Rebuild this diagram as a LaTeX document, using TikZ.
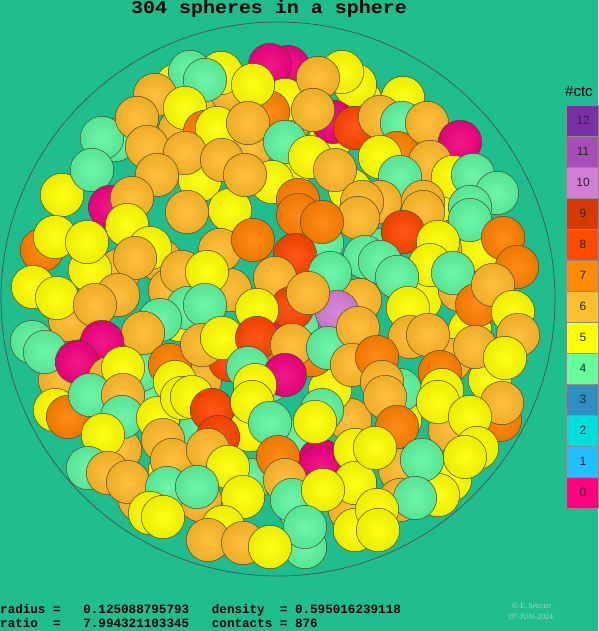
\documentclass[tikz,border=0pt]{standalone}
\usepackage{fontspec}
\setmainfont{Liberation Serif}
\newfontfamily\monof{Liberation Mono}
\newfontfamily\sansf{Liberation Sans}
\definecolor{bg}{HTML}{20BE8F}
\definecolor{cY}{HTML}{FFFF00}
\definecolor{cO6}{HTML}{FFBA2A}
\definecolor{cO7}{HTML}{FF8000}
\definecolor{cR8}{HTML}{FF4500}
\definecolor{cG}{HTML}{5FF5A0}
\definecolor{cM}{HTML}{F0007F}
\definecolor{cP}{HTML}{D27DD6}
\definecolor{cedge}{HTML}{4A4A26}
\definecolor{l12}{HTML}{7B2FA6}
\definecolor{l11}{HTML}{A84CB8}
\definecolor{l10}{HTML}{D27DD6}
\definecolor{l9}{HTML}{D63A00}
\definecolor{l8}{HTML}{FF4A00}
\definecolor{l7}{HTML}{FF8C00}
\definecolor{l6}{HTML}{FFC030}
\definecolor{l5}{HTML}{FFFF00}
\definecolor{l4}{HTML}{66FF99}
\definecolor{l3}{HTML}{2E8FC0}
\definecolor{l2}{HTML}{00DDDD}
\definecolor{l1}{HTML}{22C0FF}
\definecolor{l0}{HTML}{FF0080}
\definecolor{copyc}{HTML}{B4D6CA}
\begin{document}
\begin{tikzpicture}[
  ball/.style={draw=cedge, line width=0.5pt, inner color=#1!90!white, outer color=#1!93!black},
  legbox/.style={fill=#1, draw=black!45, line width=0.4pt},
  leglab/.style={font=\sansf\fontsize{12}{12}\selectfont, text=black!85},
  infotext/.style={font=\monof\bfseries\fontsize{12.6}{12.6}\selectfont, anchor=base west, inner sep=0pt},
  copytext/.style={font=\fontsize{8}{8}\selectfont, text=copyc, inner sep=0pt}
]
\fill[bg] (0,0) rectangle (598pt,-631pt);
\useasboundingbox (0,0) rectangle (598pt,-631pt);
\draw[line width=0.7pt, black!70] (278pt,-299pt) circle (277pt);
% back filler spheres
\foreach \x/\y/\c in {250/150/cO6,300/160/cY,200/180/cY,160/260/cO6,230/210/cY,350/190/cY,400/150/cO6,440/200/cY,120/270/cO6,90/270/cY,70/320/cO6,180/320/cY,230/290/cO6,300/330/cG,360/300/cO6,420/300/cY,470/330/cY,150/400/cG,200/430/cG,250/430/cY,300/440/cG,350/420/cO6,400/420/cY,450/430/cO6,120/450/cO6,170/470/cY,250/480/cG,330/480/cO6,400/470/cO6,450/480/cY,270/380/cG,330/390/cY,400/390/cG,200/380/cO6,100/390/cY,220/250/cO6,380/250/cG,480/250/cY,140/370/cG,60/380/cO6,170/290/cO6,330/140/cY,290/120/cO6,250/110/cY,200/110/cO6,180/130/cO6,400/120/cY,360/100/cY,440/250/cO6,460/290/cO6,490/380/cY,500/420/cO7,350/510/cO6,300/510/cG,200/500/cO6,140/500/cO6,400/500/cO6,450/360/cO6,360/360/cO7,290/290/cR8,260/350/cO7,230/360/cR8,280/330/cM,320/460/cM,340/325/cP}
  \draw[ball=\c] (\x pt,-\y pt) circle (21.7pt);
% top band
\foreach \x/\y/\c in {288/67/cM,270/65/cM,177/85/cY,190/72/cG,232/92/cO6,285/100/cY,268/112/cO7,221/73/cY,205/80/cG,253/85/cY,355/85/cY,342/72/cY,318/78/cO6,155/95/cO6,185/108/cY,115/140/cG,102/138/cG,137/118/cO6,403/98/cY,333/122/cM,205/132/cO7,217/128/cY,313/110/cO6,248/123/cO6,355/128/cR8,380/117/cO6,402/123/cG,397/153/cO7,427/123/cO6,460/142/cM,147/147/cO6,185/153/cO6,285/142/cG,222/160/cO6,310/157/cY,380/157/cY,430/162/cO6,335/170/cO6,453/177/cY,400/177/cG,473/175/cG,497/193/cG,62/195/cY,92/170/cG,157/175/cO6,272/182/cY,245/175/cO6,110/207/cM,132/198/cO6,380/202/cO6,423/202/cO6,470/207/cG,298/200/cO7,362/202/cO6,187/212/cO6}
  \draw[ball=\c] (\x pt,-\y pt) circle (21.7pt);
% middle band
\foreach \x/\y/\c in {127/225/cY,42/250/cO7,55/237/cY,87/242/cY,150/248/cY,135/258/cO6,182/272/cO6,33/287/cY,57/298/cY,118/295/cO6,95/305/cO6,188/308/cG,160/320/cG,143/333/cO6,32/342/cG,45/352/cG,102/342/cM,77/362/cM,110/378/cO6,170/365/cO7,123/368/cY,175/382/cY,358/218/cO6,298/215/cO7,322/243/cG,322/222/cO7,253/240/cO7,295/255/cR8,365/257/cG,207/272/cY,205/305/cG,275/278/cO6,330/273/cG,292/308/cR8,337/312/cP,308/293/cO6,257/310/cY,202/345/cO6,222/338/cY,257/338/cR8,312/355/cO7,292/345/cO6,328/348/cG,358/328/cO6,352/365/cO6,248/368/cG,285/375/cM,255/385/cY,423/212/cO6,470/220/cG,403/232/cR8,438/242/cY,503/238/cO7,517/267/cO7,380/262/cG,430/265/cY,397/277/cG,453/273/cG,477/305/cO7,493/285/cO6,513/312/cY,408/308/cY,410/337/cO6,428/335/cO6,518/335/cO6,475/347/cO6,505/358/cY,377/357/cO7,440/372/cO7,382/382/cO6,442/390/cY}
  \draw[ball=\c] (\x pt,-\y pt) circle (21.7pt);
% lower band
\foreach \x/\y/\c in {55/410/cY,68/417/cO7,90/395/cG,123/395/cO6,122/417/cG,103/435/cY,158/418/cY,182/398/cY,163/440/cO6,172/460/cO6,88/468/cG,108/473/cO6,128/482/cO6,167/488/cG,150/513/cY,163/517/cY,192/397/cY,212/410/cR8,218/437/cR8,208/450/cO6,252/402/cY,270/423/cG,322/410/cG,315/422/cY,278/457/cO7,228/467/cY,320/467/cM,285/480/cO6,355/450/cY,355/483/cY,197/487/cG,243/497/cY,292/500/cG,323/490/cY,305/547/cG,305/527/cG,223/527/cY,208/540/cO6,243/543/cO6,270/547/cY,355/530/cY,385/397/cO6,438/402/cY,502/403/cO6,470/417/cY,397/427/cO7,375/448/cY,477/448/cY,465/457/cY,438/495/cY,422/460/cG,415/498/cG,377/510/cY,378/530/cY}
  \draw[ball=\c] (\x pt,-\y pt) circle (21.7pt);
% title
\node[font=\monof\bfseries\fontsize{18}{18}\selectfont, anchor=base, inner sep=0pt, xscale=1.11, transform shape] (title) at (269pt,-14pt) {304 spheres in a sphere};
% info text
\node[infotext] (info1) at (0pt,-613pt) {radius =\ \ \ 0.125088795793\ \ \ density\ \ = 0.595016239118};
\node[infotext] (info2) at (0pt,-627pt) {ratio\ \ =\ \ \ 7.994321103345\ \ \ contacts = 876};
\node[copytext] (copy1) at (532pt,-606pt) {\textcopyright\ E.\,S{\fontsize{6}{6}\selectfont PECHT}};
\node[copytext] (copy2) at (531pt,-617pt) {07-JUN-2024};
% legend
\node[font=\sansf\fontsize{15}{15}\selectfont, anchor=base west, inner sep=0pt] (ctc) at (565pt,-97pt) {\#ctc};
\foreach \i in {0,...,12} {
  \pgfmathsetmacro\yt{105+(12-\i)*31}
  \filldraw[legbox=l\i] (566pt,-\yt pt) rectangle (598pt,{-\yt pt-31pt});
  \node[leglab] (lab\i) at (583pt,{-\yt pt-15.5pt}) {\i};
}
\end{tikzpicture}
\end{document}
